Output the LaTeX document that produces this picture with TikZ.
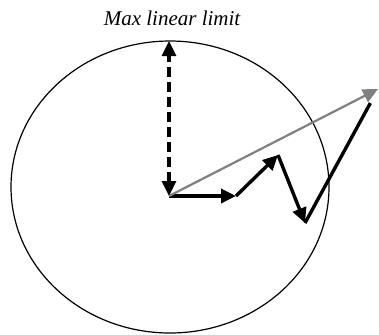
\documentclass[tikz,border=0pt]{standalone}
\usepackage{fontspec}
\setmainfont{Liberation Serif}
\usetikzlibrary{arrows.meta,positioning,calc}
\tikzset{
  vec/.style={-{Triangle[length=7.5pt,width=7pt]},line width=1.7pt,black},
  resvec/.style={-{Triangle[length=7.5pt,width=7pt]},line width=1.1pt,gray},
  limvec/.style={{Triangle[length=7.5pt,width=7pt]}-{Triangle[length=7.5pt,width=7pt]},line width=1.6pt,dash pattern=on 5pt off 2.5pt},
}

\begin{document}
\begin{tikzpicture}[x=0.5pt,y=-0.5pt]
  \useasboundingbox (0,0) rectangle (379,334);
  \draw[line width=0.6pt] (170,187) ellipse [x radius=159,y radius=146];
  \coordinate (o) at (169,196);
  \coordinate (top) at (169,41);
  \coordinate (p1) at (236,196);
  \coordinate (p2) at (278,155);
  \coordinate (p3) at (305,223);
  \coordinate (p4) at (378,89);
  \node[font=\itshape\fontsize{10.5}{12}\selectfont] (lbl) at (172,18) {Max linear limit};
  \draw[limvec] (o) -- (top);
  \draw[vec] (o) -- (p1);
  \draw[vec] (p1) -- (p2);
  \draw[vec] (p2) -- (p3);
  \draw[line width=1.7pt] (p3) -- ($(p4)!8pt!(p3)$);
  \draw[resvec] (o) -- (p4);
\end{tikzpicture}
\end{document}
